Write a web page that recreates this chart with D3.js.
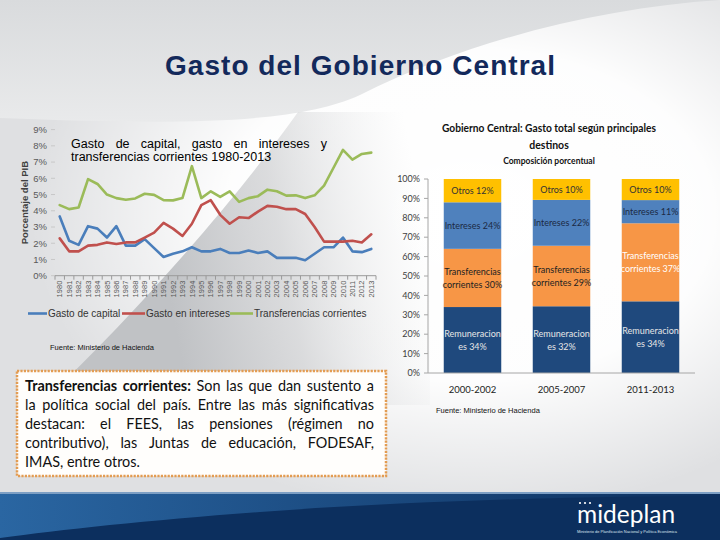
<!DOCTYPE html>
<html><head><meta charset="utf-8">
<script src="https://cdn.jsdelivr.net/npm/d3@7"></script>
<style>body{margin:0;background:#fff}svg{display:block}</style>
</head><body>
<svg id="c" width="720" height="540"></svg>
<script>
// ---------- DATA ----------
const years = ["1980","1981","1982","1983","1984","1985","1986","1987","1988","1989",
  "1990","1991","1992","1993","1994","1995","1996","1997","1998","1999",
  "2000","2001","2002","2003","2004","2005","2006","2007","2008","2009",
  "2010","2011","2012","2013"];
const gastoCapital = [3.65,2.15,1.9,3.05,2.9,2.35,3.05,1.85,1.85,2.25,
  1.7,1.15,1.35,1.5,1.75,1.5,1.5,1.65,1.4,1.4,
  1.55,1.4,1.5,1.1,1.1,1.1,0.95,1.35,1.75,1.75,
  2.35,1.5,1.45,1.65];
const gastoIntereses = [2.3,1.5,1.5,1.85,1.9,2.05,1.95,2.05,2.05,2.35,
  2.65,3.25,2.9,2.45,3.2,4.35,4.65,3.75,3.2,3.6,
  3.55,3.95,4.3,4.25,4.1,4.1,3.8,3.0,2.1,2.1,
  2.1,2.15,2.05,2.55];
const transferencias = [4.35,4.1,4.2,5.95,5.65,5.0,4.78,4.68,4.76,5.05,
  4.98,4.65,4.64,4.78,6.75,4.78,5.2,4.85,5.2,4.55,
  4.78,4.9,5.3,5.2,4.93,4.95,4.78,4.95,5.55,6.65,
  7.75,7.15,7.5,7.58];
const lineNames = ["Gasto de capital","Gasto en intereses","Transferencias corrientes"];
const leftTicks = [0,1,2,3,4,5,6,7,8,9];

const periods = ["2000-2002","2005-2007","2011-2013"];
const remuneraciones = [34,32,34];
const transfCorrientes = [30,29,37];
const intereses = [24,22,11];
const otros = [12,10,10];
const stackKeys = ["rem","tra","int","otr"];
const stackLabelA = ["Remuneracion","Transferencias","Intereses","Otros"];
const stackLabelB = ["es","corrientes",null,null];
const rightTicks = [0,0.1,0.2,0.3,0.4,0.5,0.6,0.7,0.8,0.9,1];

const boxLines = [
  [["Transferencias",1],["corrientes:",1],["Son"],["las"],["que"],["dan"],["sustento"],["a"]],
  "la política social del país. Entre las más significativas",
  "destacan: el FEES, las pensiones (régimen no",
  "contributivo), las Juntas de educación, FODESAF,",
  "IMAS, entre otros."
];

// ---------- DRAW ----------
function draw(){
const svg = d3.select("#c");
const defs = svg.append("defs");
const ARIAL = "'Liberation Sans', Arial, sans-serif";
const CAL = "Lato, 'Open Sans', sans-serif";

const glow = defs.append("radialGradient").attr("id","glow");
glow.append("stop").attr("offset","0%").attr("stop-color","#fff").attr("stop-opacity",1);
glow.append("stop").attr("offset","55%").attr("stop-color","#fff").attr("stop-opacity",0.95);
glow.append("stop").attr("offset","100%").attr("stop-color","#fff").attr("stop-opacity",0);
const topg = defs.append("linearGradient").attr("id","topg").attr("x1",0).attr("y1",0).attr("x2",0).attr("y2",1);
topg.append("stop").attr("offset","0%").attr("stop-color","#d9dbdd");
topg.append("stop").attr("offset","100%").attr("stop-color","#e9eaeb");
const wedge = defs.append("linearGradient").attr("id","wedge").attr("gradientUnits","userSpaceOnUse")
  .attr("x1",170).attr("y1",300).attr("x2",430).attr("y2",250);
wedge.append("stop").attr("offset","0%").attr("stop-color","#c0c2c5").attr("stop-opacity",1);
wedge.append("stop").attr("offset","45%").attr("stop-color","#d2d3d5").attr("stop-opacity",0.8);
wedge.append("stop").attr("offset","100%").attr("stop-color","#e6e7e8").attr("stop-opacity",0);
const band = defs.append("linearGradient").attr("id","band").attr("x1",0).attr("y1",0).attr("x2",1).attr("y2",0);
band.append("stop").attr("offset","0%").attr("stop-color","#2a66a2");
band.append("stop").attr("offset","100%").attr("stop-color","#0c2f5e");

svg.append("rect").attr("width",720).attr("height",540).attr("fill","#dfe0e2");
svg.append("ellipse").attr("cx",470).attr("cy",215).attr("rx",440).attr("ry",300).attr("fill","url(#glow)");
svg.append("path").attr("d","M0,0 H720 C600,8 470,40 360,95 C300,122 200,126 0,118 Z").attr("fill","url(#topg)");
svg.append("path").attr("d","M298,112 C250,180 160,290 40,405 L430,405 L430,112 Z").attr("fill","url(#wedge)");
svg.append("rect").attr("y",493).attr("width",720).attr("height",47).attr("fill","#0c2f5e");
svg.append("path").attr("d","M0,494 H720 V496 C600,496 420,500 260,512 C150,520 60,530 0,538 Z").attr("fill","url(#band)");
svg.append("rect").attr("y",492).attr("width",720).attr("height",2).attr("fill","#7d9fc4");

// main title
svg.append("text").attr("x",360).attr("y",75).attr("text-anchor","middle")
  .attr("font-family",ARIAL).attr("font-size",28).attr("font-weight","bold")
  .attr("textLength",390).attr("lengthAdjust","spacing")
  .attr("fill","#13295b").text("Gasto del Gobierno Central");

// ---------- LEFT LINE CHART ----------
const L = svg.append("g");
const x = d3.scalePoint().domain(years).range([55,376]).padding(0.5);
const y = d3.scaleLinear().domain([0,9]).range([275.7,129.6]);
const step = x.step();

L.selectAll(".yt").data(leftTicks).join("text")
  .attr("x",47).attr("y",d=>y(d)).attr("dy","0.35em").attr("text-anchor","end")
  .attr("font-family",ARIAL).attr("font-size",9.5).attr("fill","#595959")
  .text(d=>d+"%");
L.selectAll(".ytk").data(leftTicks).join("line")
  .attr("x1",51).attr("x2",55).attr("y1",d=>y(d)).attr("y2",d=>y(d))
  .attr("stroke","#c8c8c8").attr("stroke-width",1);
L.append("line").attr("x1",55).attr("x2",376).attr("y1",y(0)).attr("y2",y(0))
  .attr("stroke","#9a9a9a").attr("stroke-width",1);
L.selectAll(".xtk").data(d3.range(years.length+1)).join("line")
  .attr("x1",i=>55+i*step).attr("x2",i=>55+i*step).attr("y1",y(0)).attr("y2",y(0)+4)
  .attr("stroke","#9a9a9a").attr("stroke-width",1);
L.selectAll(".xl").data(years).join("text")
  .attr("transform",d=>`translate(${x(d)},${y(0)+5}) rotate(-90)`)
  .attr("dy","0.35em").attr("text-anchor","end")
  .attr("font-family",ARIAL).attr("font-size",7.5).attr("fill","#595959").text(d=>d);
L.append("text").attr("transform",`translate(28,${(y(0)+y(9))/2}) rotate(-90)`)
  .attr("text-anchor","middle").attr("font-family",ARIAL).attr("font-size",9.5)
  .attr("font-weight","bold").attr("fill","#404040").text("Porcentaje del PIB");

const colors = ["#4a7ebb","#c0504d","#9bbb59"];
const series = [gastoCapital, gastoIntereses, transferencias];
const line = d3.line().x((d,i)=>x(years[i])).y(d=>y(d));
series.forEach((s,k)=>{
  L.append("path").attr("d",line(s)).attr("fill","none").attr("stroke",colors[k])
   .attr("stroke-width",2.6).attr("stroke-linejoin","round").attr("stroke-linecap","round");
});

function justifyLine(g, parts, x0, x1, yy, size, family, color, just){
  const nodes = parts.map(p => g.append("text").attr("y",yy)
    .style("font-size",size+"px").style("font-family",family)
    .style("font-weight",p[1]?"bold":"normal").attr("fill",color).text(p[0]));
  const widths = nodes.map(n=>n.node().getComputedTextLength());
  const total = d3.sum(widths);
  const gap = (just && parts.length>1) ? (x1-x0-total)/(parts.length-1) : size*0.26;
  let xx = x0;
  nodes.forEach((n,i)=>{ n.attr("x",xx); xx += widths[i]+gap; });
}
justifyLine(L, "Gasto de capital, gasto en intereses y".split(" ").map(w=>[w]), 71, 327, 147.5, 12.5, ARIAL, "#000", true);
L.append("text").attr("x",71).attr("y",160.5).attr("font-family",ARIAL).attr("font-size",12.5)
  .attr("fill","#000").text("transferencias corrientes 1980-2013");

const legX = [[28,47],[122,145],[230,253]];
lineNames.forEach((n,k)=>{
  L.append("line").attr("x1",legX[k][0]).attr("x2",legX[k][1]).attr("y1",313.5).attr("y2",313.5)
   .attr("stroke",colors[k]).attr("stroke-width",2.6);
  L.append("text").attr("x",legX[k][1]+1).attr("y",313.5).attr("dy","0.35em")
   .attr("font-family",ARIAL).attr("font-size",10).attr("fill","#333").text(n);
});
L.append("text").attr("x",50).attr("y",349.5).attr("font-family",ARIAL).attr("font-size",7.5)
  .attr("fill","#111").text("Fuente: Ministerio de Hacienda");

// ---------- TEXT BOX ----------
svg.append("rect").attr("x",17).attr("y",371).attr("width",369).attr("height",105)
  .attr("fill","#fffefc").attr("stroke","#e39c52").attr("stroke-width",2.5)
  .attr("stroke-dasharray","2.2,1.2");
const B = svg.append("g");
const boxY = [391,410,429,448,467];
boxLines.forEach((ln,i)=>{
  const parts = typeof ln === "string" ? ln.split(" ").map(w=>[w]) : ln;
  justifyLine(B, parts, 25, 374, boxY[i], 14.4, CAL, "#111", i < boxLines.length-1);
});

// ---------- RIGHT STACKED BAR ----------
const R = svg.append("g");
const rows = periods.map((p,i)=>({p, rem:remuneraciones[i], tra:transfCorrientes[i], int:intereses[i], otr:otros[i]}));
const stacked = d3.stack().keys(stackKeys).offset(d3.stackOffsetExpand)(rows);
const xb = d3.scaleBand().domain(periods).range([428,695]).paddingInner(0.354).paddingOuter(0.177);
const yb = d3.scaleLinear().domain([0,1]).range([373,179]);
const barColors = ["#1f497d","#f79646","#4f81bd","#ffc000"];
const txtColors = [["#e6e6e6","#e6e6e6","#e6e6e6"],["#222","#222","#fff"],["#1c2a44","#1c2a44","#1c2a44"],["#333","#333","#333"]];

R.append("text").attr("x",549).attr("y",132).attr("text-anchor","middle").attr("font-family",CAL)
  .attr("font-size",10.5).attr("font-weight","bold").attr("fill","#111")
  .attr("textLength",214).attr("lengthAdjust","spacingAndGlyphs")
  .text("Gobierno Central: Gasto total según principales");
R.append("text").attr("x",549).attr("y",149).attr("text-anchor","middle").attr("font-family",CAL)
  .attr("font-size",10.5).attr("font-weight","bold").attr("fill","#111").text("destinos");
R.append("text").attr("x",549).attr("y",164).attr("text-anchor","middle").attr("font-family",CAL)
  .attr("font-size",8.5).attr("font-weight","bold").attr("fill","#111").text("Composición porcentual");

R.selectAll(".ryl").data(rightTicks).join("text")
  .attr("x",420).attr("y",d=>yb(d)).attr("dy","0.35em").attr("text-anchor","end")
  .attr("font-family",CAL).attr("font-size",9).attr("fill","#404040")
  .text(d=>d3.format(".0%")(d));
R.selectAll(".rtk").data(rightTicks).join("line")
  .attr("x1",424).attr("x2",428).attr("y1",d=>yb(d)).attr("y2",d=>yb(d))
  .attr("stroke","#a6a6a6");

stacked.forEach((s,k)=>{
  R.selectAll(".b"+k).data(s).join("rect")
    .attr("x",d=>xb(d.data.p)).attr("width",xb.bandwidth())
    .attr("y",d=>yb(d[1])).attr("height",d=>yb(d[0])-yb(d[1]))
    .attr("fill",barColors[k]);
});
R.append("line").attr("x1",428).attr("x2",428).attr("y1",179).attr("y2",373).attr("stroke","#a6a6a6");
R.append("line").attr("x1",428).attr("x2",695).attr("y1",373).attr("y2",373).attr("stroke","#a6a6a6");

stacked.forEach((s,k)=>{
  s.forEach((d,i)=>{
    const cx = xb(d.data.p)+xb.bandwidth()/2;
    const cy = (yb(d[0])+yb(d[1]))/2;
    const val = d.data[stackKeys[k]]+"%";
    const t = R.append("text").attr("x",cx).attr("text-anchor","middle").attr("font-family",CAL)
      .attr("font-size",9).attr("fill",txtColors[k][i]);
    if(stackLabelB[k]){
      t.append("tspan").attr("x",cx).attr("y",cy-3).text(stackLabelA[k]);
      t.append("tspan").attr("x",cx).attr("y",cy+10).text(stackLabelB[k]+" "+val);
    } else {
      t.attr("y",cy).attr("dy","0.35em").text(stackLabelA[k]+" "+val);
    }
  });
});
R.selectAll(".rxl").data(periods).join("text")
  .attr("x",d=>xb(d)+xb.bandwidth()/2).attr("y",393).attr("text-anchor","middle")
  .attr("font-family",CAL).attr("font-size",9.5).attr("fill","#222").text(d=>d);
R.append("text").attr("x",436).attr("y",413).attr("font-family",ARIAL).attr("font-size",7.5)
  .attr("fill","#111").text("Fuente: Ministerio de Hacienda");

// ---------- LOGO ----------
svg.append("text").attr("x",577).attr("y",523).attr("font-family",CAL).attr("font-size",24.5)
  .attr("fill","#fff").text("mideplan");
[580,585,590].forEach(cx=>svg.append("circle").attr("cx",cx).attr("cy",503).attr("r",1.1).attr("fill","#fff"));
svg.append("text").attr("x",577).attr("y",533).attr("font-family",ARIAL).attr("font-size",3.6)
  .attr("fill","#dfe6ee").attr("textLength",100).attr("lengthAdjust","spacingAndGlyphs")
  .text("Ministerio de Planificación Nacional y Política Económica");
}
document.fonts.ready.then(draw);
</script>
</body></html>
